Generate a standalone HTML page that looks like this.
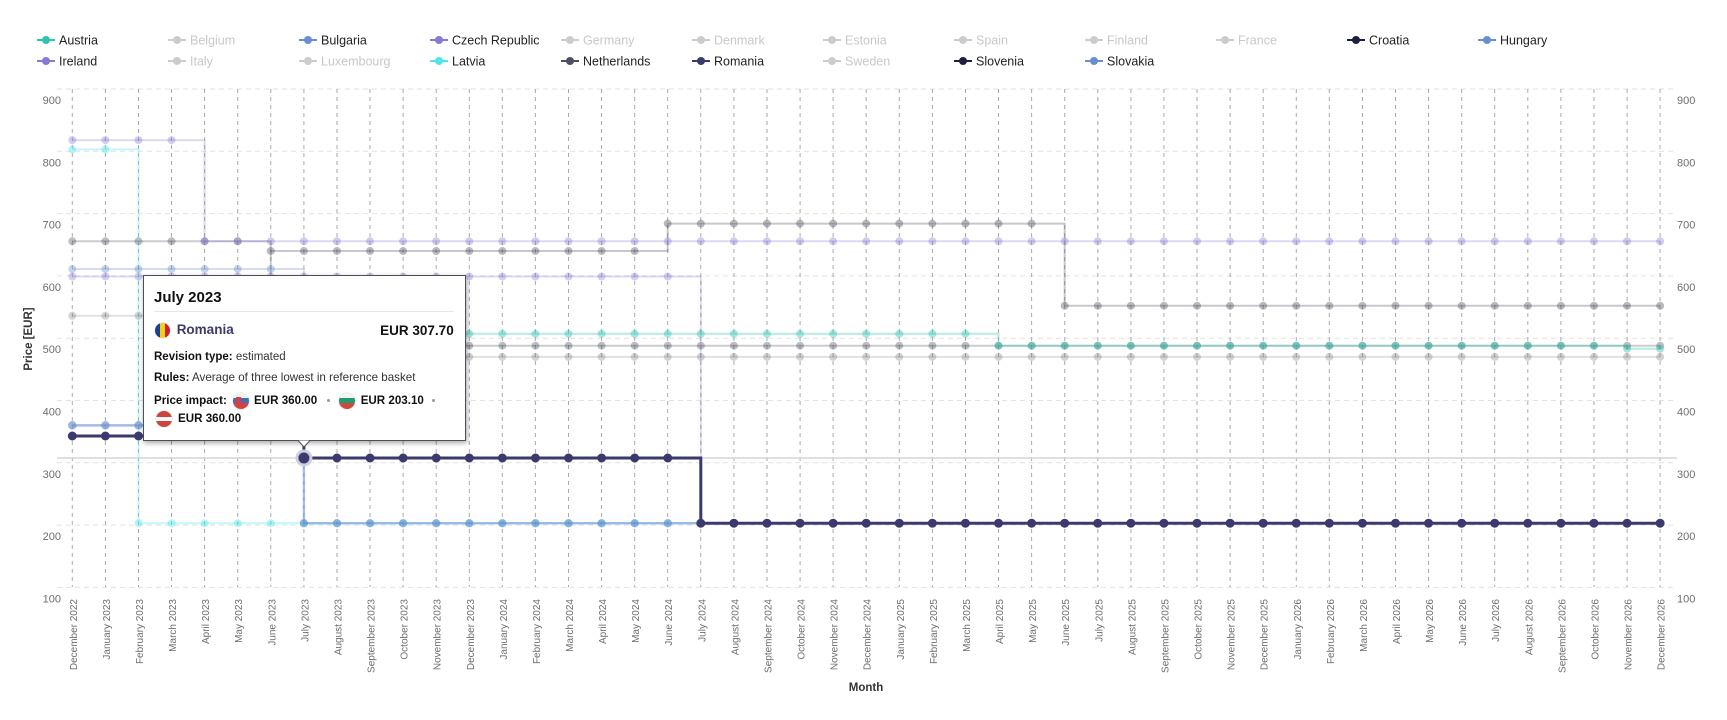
<!DOCTYPE html>
<html><head><meta charset="utf-8"><style>
html,body{margin:0;padding:0;background:#fff;}
body{width:1727px;height:720px;overflow:hidden;position:relative;font-family:"Liberation Sans",sans-serif;}
#tt{position:absolute;left:143px;top:275px;width:321px;height:164px;background:#fff;border:1px solid #4d4d5c;box-shadow:1px 2px 5px rgba(0,0,0,.35);color:#111;}
#tt div,#tt span{position:absolute;white-space:nowrap;}
.b{font-weight:bold;}
.fl{border-radius:50%;overflow:hidden;box-shadow:0 0 0 .5px rgba(0,0,0,.15);}
.sep{width:3px;height:3px;border-radius:50%;background:#9a9a9a;}
</style></head><body>
<svg width="1727" height="720" viewBox="0 0 1727 720" xmlns="http://www.w3.org/2000/svg" style="position:absolute;left:0;top:0">
<!-- legend -->
<g font-family="Liberation Sans, sans-serif" font-size="12.5">
<g transform="translate(46,40)"><path d="M-9 0H9" stroke="#2ec4b0" stroke-width="2"/><circle r="4" fill="#2ec4b0"/><text x="13" y="4.5" fill="#222">Austria</text></g>
<g transform="translate(177,40)"><path d="M-9 0H9" stroke="#cccccc" stroke-width="2"/><circle r="4" fill="#cccccc"/><text x="13" y="4.5" fill="#c8c8c8">Belgium</text></g>
<g transform="translate(308,40)"><path d="M-9 0H9" stroke="#6a8fd0" stroke-width="2"/><circle r="4" fill="#6a8fd0"/><text x="13" y="4.5" fill="#222">Bulgaria</text></g>
<g transform="translate(439,40)"><path d="M-9 0H9" stroke="#8a78d4" stroke-width="2"/><circle r="4" fill="#8a78d4"/><text x="13" y="4.5" fill="#222">Czech Republic</text></g>
<g transform="translate(570,40)"><path d="M-9 0H9" stroke="#cccccc" stroke-width="2"/><circle r="4" fill="#cccccc"/><text x="13" y="4.5" fill="#c8c8c8">Germany</text></g>
<g transform="translate(701,40)"><path d="M-9 0H9" stroke="#cccccc" stroke-width="2"/><circle r="4" fill="#cccccc"/><text x="13" y="4.5" fill="#c8c8c8">Denmark</text></g>
<g transform="translate(832,40)"><path d="M-9 0H9" stroke="#cccccc" stroke-width="2"/><circle r="4" fill="#cccccc"/><text x="13" y="4.5" fill="#c8c8c8">Estonia</text></g>
<g transform="translate(963,40)"><path d="M-9 0H9" stroke="#cccccc" stroke-width="2"/><circle r="4" fill="#cccccc"/><text x="13" y="4.5" fill="#c8c8c8">Spain</text></g>
<g transform="translate(1094,40)"><path d="M-9 0H9" stroke="#cccccc" stroke-width="2"/><circle r="4" fill="#cccccc"/><text x="13" y="4.5" fill="#c8c8c8">Finland</text></g>
<g transform="translate(1225,40)"><path d="M-9 0H9" stroke="#cccccc" stroke-width="2"/><circle r="4" fill="#cccccc"/><text x="13" y="4.5" fill="#c8c8c8">France</text></g>
<g transform="translate(1356,40)"><path d="M-9 0H9" stroke="#1f1f3f" stroke-width="2"/><circle r="4" fill="#1f1f3f"/><text x="13" y="4.5" fill="#222">Croatia</text></g>
<g transform="translate(1487,40)"><path d="M-9 0H9" stroke="#6a8fd0" stroke-width="2"/><circle r="4" fill="#6a8fd0"/><text x="13" y="4.5" fill="#222">Hungary</text></g>
<g transform="translate(46,61)"><path d="M-9 0H9" stroke="#8a78d4" stroke-width="2"/><circle r="4" fill="#8a78d4"/><text x="13" y="4.5" fill="#222">Ireland</text></g>
<g transform="translate(177,61)"><path d="M-9 0H9" stroke="#cccccc" stroke-width="2"/><circle r="4" fill="#cccccc"/><text x="13" y="4.5" fill="#c8c8c8">Italy</text></g>
<g transform="translate(308,61)"><path d="M-9 0H9" stroke="#cccccc" stroke-width="2"/><circle r="4" fill="#cccccc"/><text x="13" y="4.5" fill="#c8c8c8">Luxembourg</text></g>
<g transform="translate(439,61)"><path d="M-9 0H9" stroke="#4ee6e8" stroke-width="2"/><circle r="4" fill="#4ee6e8"/><text x="13" y="4.5" fill="#222">Latvia</text></g>
<g transform="translate(570,61)"><path d="M-9 0H9" stroke="#4a5160" stroke-width="2"/><circle r="4" fill="#4a5160"/><text x="13" y="4.5" fill="#222">Netherlands</text></g>
<g transform="translate(701,61)"><path d="M-9 0H9" stroke="#3b3a6e" stroke-width="2"/><circle r="4" fill="#3b3a6e"/><text x="13" y="4.5" fill="#222">Romania</text></g>
<g transform="translate(832,61)"><path d="M-9 0H9" stroke="#cccccc" stroke-width="2"/><circle r="4" fill="#cccccc"/><text x="13" y="4.5" fill="#c8c8c8">Sweden</text></g>
<g transform="translate(963,61)"><path d="M-9 0H9" stroke="#1f1f3f" stroke-width="2"/><circle r="4" fill="#1f1f3f"/><text x="13" y="4.5" fill="#222">Slovenia</text></g>
<g transform="translate(1094,61)"><path d="M-9 0H9" stroke="#6a8fd0" stroke-width="2"/><circle r="4" fill="#6a8fd0"/><text x="13" y="4.5" fill="#222">Slovakia</text></g>
</g>

<!-- horizontal grid -->
<g stroke="#e2e2e2" stroke-width="1" stroke-dasharray="5 4" fill="none">
<path d="M57 89H1677M57 151.3H1677M57 213.6H1677M57 275.9H1677M57 338.2H1677M57 400.5H1677M57 462.8H1677M57 525.1H1677M57 587.4H1677"/>
</g>
<!-- vertical grid -->
<path fill="none" stroke="#aaaaaa" stroke-width="1" stroke-dasharray="4 4" d="M72.3 89V587M105.4 89V587M138.5 89V587M171.5 89V587M204.6 89V587M237.7 89V587M270.8 89V587M303.9 89V587M337 89V587M370 89V587M403.1 89V587M436.2 89V587M469.3 89V587M502.3 89V587M535.4 89V587M568.5 89V587M601.6 89V587M634.7 89V587M667.7 89V587M700.8 89V587M733.9 89V587M767 89V587M800.1 89V587M833.1 89V587M866.2 89V587M899.3 89V587M932.4 89V587M965.5 89V587M998.5 89V587M1031.6 89V587M1064.7 89V587M1097.8 89V587M1130.9 89V587M1163.9 89V587M1197 89V587M1230.1 89V587M1263.2 89V587M1296.3 89V587M1329.3 89V587M1362.4 89V587M1395.5 89V587M1428.6 89V587M1461.7 89V587M1494.7 89V587M1527.8 89V587M1560.9 89V587M1594 89V587M1627.1 89V587M1660.1 89V587"/>

<!-- y tick labels -->
<g font-family="Liberation Sans, sans-serif" font-size="11" fill="#6e6e6e">
<g text-anchor="end">
<text x="61" y="104">900</text><text x="61" y="166.3">800</text><text x="61" y="228.6">700</text><text x="61" y="290.9">600</text><text x="61" y="353.2">500</text><text x="61" y="415.5">400</text><text x="61" y="477.8">300</text><text x="61" y="540.1">200</text><text x="61" y="602.4">100</text>
</g>
<g text-anchor="start">
<text x="1677" y="104">900</text><text x="1677" y="166.3">800</text><text x="1677" y="228.6">700</text><text x="1677" y="290.9">600</text><text x="1677" y="353.2">500</text><text x="1677" y="415.5">400</text><text x="1677" y="477.8">300</text><text x="1677" y="540.1">200</text><text x="1677" y="602.4">100</text>
</g>
</g>
<text transform="translate(32 339) rotate(-90)" text-anchor="middle" font-family="Liberation Sans, sans-serif" font-size="11.5" font-weight="bold" fill="#333">Price [EUR]</text>
<text x="866" y="691" text-anchor="middle" font-family="Liberation Sans, sans-serif" font-size="11.5" font-weight="bold" fill="#333">Month</text>

<!-- x tick labels -->
<g font-family="Liberation Sans, sans-serif" font-size="10" fill="#6e6e6e" text-anchor="end">
<text transform="translate(76.8 599)rotate(-90)">December 2022</text>
<text transform="translate(109.9 599)rotate(-90)">January 2023</text>
<text transform="translate(143 599)rotate(-90)">February 2023</text>
<text transform="translate(176 599)rotate(-90)">March 2023</text>
<text transform="translate(209.1 599)rotate(-90)">April 2023</text>
<text transform="translate(242.2 599)rotate(-90)">May 2023</text>
<text transform="translate(275.3 599)rotate(-90)">June 2023</text>
<text transform="translate(308.4 599)rotate(-90)">July 2023</text>
<text transform="translate(341.5 599)rotate(-90)">August 2023</text>
<text transform="translate(374.5 599)rotate(-90)">September 2023</text>
<text transform="translate(407.6 599)rotate(-90)">October 2023</text>
<text transform="translate(440.7 599)rotate(-90)">November 2023</text>
<text transform="translate(473.8 599)rotate(-90)">December 2023</text>
<text transform="translate(506.8 599)rotate(-90)">January 2024</text>
<text transform="translate(539.9 599)rotate(-90)">February 2024</text>
<text transform="translate(573 599)rotate(-90)">March 2024</text>
<text transform="translate(606.1 599)rotate(-90)">April 2024</text>
<text transform="translate(639.2 599)rotate(-90)">May 2024</text>
<text transform="translate(672.2 599)rotate(-90)">June 2024</text>
<text transform="translate(705.3 599)rotate(-90)">July 2024</text>
<text transform="translate(738.4 599)rotate(-90)">August 2024</text>
<text transform="translate(771.5 599)rotate(-90)">September 2024</text>
<text transform="translate(804.6 599)rotate(-90)">October 2024</text>
<text transform="translate(837.6 599)rotate(-90)">November 2024</text>
<text transform="translate(870.7 599)rotate(-90)">December 2024</text>
<text transform="translate(903.8 599)rotate(-90)">January 2025</text>
<text transform="translate(936.9 599)rotate(-90)">February 2025</text>
<text transform="translate(970 599)rotate(-90)">March 2025</text>
<text transform="translate(1003 599)rotate(-90)">April 2025</text>
<text transform="translate(1036.1 599)rotate(-90)">May 2025</text>
<text transform="translate(1069.2 599)rotate(-90)">June 2025</text>
<text transform="translate(1102.3 599)rotate(-90)">July 2025</text>
<text transform="translate(1135.4 599)rotate(-90)">August 2025</text>
<text transform="translate(1168.4 599)rotate(-90)">September 2025</text>
<text transform="translate(1201.5 599)rotate(-90)">October 2025</text>
<text transform="translate(1234.6 599)rotate(-90)">November 2025</text>
<text transform="translate(1267.7 599)rotate(-90)">December 2025</text>
<text transform="translate(1300.8 599)rotate(-90)">January 2026</text>
<text transform="translate(1333.8 599)rotate(-90)">February 2026</text>
<text transform="translate(1366.9 599)rotate(-90)">March 2026</text>
<text transform="translate(1400 599)rotate(-90)">April 2026</text>
<text transform="translate(1433.1 599)rotate(-90)">May 2026</text>
<text transform="translate(1466.2 599)rotate(-90)">June 2026</text>
<text transform="translate(1499.2 599)rotate(-90)">July 2026</text>
<text transform="translate(1532.3 599)rotate(-90)">August 2026</text>
<text transform="translate(1565.4 599)rotate(-90)">September 2026</text>
<text transform="translate(1598.5 599)rotate(-90)">October 2026</text>
<text transform="translate(1631.6 599)rotate(-90)">November 2026</text>
<text transform="translate(1664.6 599)rotate(-90)">December 2026</text>
</g>

<!-- series -->
<g fill="none" stroke-linejoin="miter">
<!-- Gray B -->
<path d="M72.3 315.8H204.6V356.9H1660.1" stroke="rgba(120,120,120,0.22)" stroke-width="2"/>
<g stroke="rgba(120,120,120,0.32)" stroke-width="8" stroke-linecap="round" stroke-dasharray="0 33.08">
<path d="M72.3 315.8H171.8"/><path d="M204.6 356.9H1660.4"/></g>
<!-- Gray A -->
<path d="M72.3 241.3H270.8V345.7H1660.1" stroke="rgba(80,85,100,0.3)" stroke-width="2"/>
<g stroke="rgba(80,85,100,0.38)" stroke-width="8" stroke-linecap="round" stroke-dasharray="0 33.08">
<path d="M72.3 241.3H238"/><path d="M270.8 345.7H1660.4"/></g>
<!-- Gray C -->
<path d="M270.8 251H667.7V223.6H1064.7V305.8H1660.1" stroke="rgba(80,85,100,0.32)" stroke-width="2"/>
<g stroke="rgba(80,85,100,0.4)" stroke-width="8" stroke-linecap="round" stroke-dasharray="0 33.08">
<path d="M270.8 251H635"/><path d="M667.7 223.6H1031.9"/><path d="M1064.7 305.8H1660.4"/></g>
<!-- Czech purple -->
<path d="M72.3 140.1H204.6V241.3H1660.1" stroke="rgba(138,120,212,0.28)" stroke-width="2"/>
<g stroke="rgba(138,120,212,0.38)" stroke-width="8" stroke-linecap="round" stroke-dasharray="0 33.08">
<path d="M72.3 140.1H171.8"/><path d="M204.6 241.3H1660.4"/></g>
<!-- Ireland purple -->
<path d="M72.3 276.5H700.8V523.2H1660.1" stroke="rgba(138,120,212,0.28)" stroke-width="2"/>
<g stroke="rgba(138,120,212,0.36)" stroke-width="8" stroke-linecap="round" stroke-dasharray="0 33.08">
<path d="M72.3 276.5H668"/></g>
<!-- Teal Austria -->
<path d="M204.6 333.8H998.5V345.7H1627.1V348.8H1660.1" stroke="rgba(46,196,176,0.35)" stroke-width="2"/>
<g stroke="rgba(46,196,176,0.42)" stroke-width="8" stroke-linecap="round" stroke-dasharray="0 33.08">
<path d="M204.6 333.8H965.8"/><path d="M998.5 345.7H1594.3"/><path d="M1627.1 348.8H1660.4"/></g>
<!-- Cyan Latvia -->
<path d="M72.3 149.4H138.5V523.2H1660.1" stroke="rgba(78,230,232,0.32)" stroke-width="2"/>
<g stroke="rgba(78,230,232,0.42)" stroke-width="8" stroke-linecap="round" stroke-dasharray="0 33.08">
<path d="M72.3 149.4H105.7"/><path d="M138.5 523.2H1660.4"/></g>
<!-- Hungary light blue -->
<path d="M72.3 269H303.9V523.2H1660.1" stroke="rgba(106,143,208,0.3)" stroke-width="2"/>
<g stroke="rgba(106,143,208,0.38)" stroke-width="8" stroke-linecap="round" stroke-dasharray="0 33.08">
<path d="M72.3 269H271.1"/><path d="M303.9 523.2H1660.4"/></g>
<!-- Slovakia -->
<path d="M72.3 425.4H303.9" stroke="rgba(106,143,208,0.62)" stroke-width="2.5"/>
<path d="M303.9 425.4V523.2H1660.1" stroke="rgba(106,143,208,0.4)" stroke-width="2.5"/>
<g stroke="rgba(106,143,208,0.68)" stroke-width="8.5" stroke-linecap="round" stroke-dasharray="0 33.08">
<path d="M72.3 425.4H271.1"/></g>
<g stroke="rgba(106,143,208,0.42)" stroke-width="8.5" stroke-linecap="round" stroke-dasharray="0 33.08">
<path d="M303.9 523.2H1660.4"/></g>
<!-- crosshair -->
<path d="M57 458H1677" stroke="#d6d6d6" stroke-width="1.5"/>
<!-- Romania -->
<path d="M72.3 436H303.9V458H700.8V523.2H1660.1" stroke="#3b3a6e" stroke-width="3"/>
<g stroke="#3b3a6e" stroke-width="9" stroke-linecap="round" stroke-dasharray="0 33.08">
<path d="M72.3 436H271.1"/><path d="M303.9 458H668"/><path d="M700.8 523.2H1660.4"/></g>
<!-- highlight -->
<circle cx="303.9" cy="458" r="8.5" fill="#cfcfe0" stroke="none"/>
<circle cx="303.9" cy="458" r="5.5" fill="#3b3a6e" stroke="none"/>
</g>
</svg>

<div id="tt">
<div class="b" style="left:10px;top:13px;font-size:15px;line-height:18px;">July 2023</div>
<div style="left:10px;top:35px;width:300px;height:1px;background:#e6e6e6;"></div>
<div class="fl" style="left:10.7px;top:46.8px;width:15px;height:15px;">
<span style="left:0;top:0;width:5px;height:15px;background:#1a3f8f;"></span>
<span style="left:5px;top:0;width:5px;height:15px;background:#f5cf1a;"></span>
<span style="left:10px;top:0;width:5px;height:15px;background:#d02030;"></span>
</div>
<div class="b" style="left:32.7px;top:46.3px;font-size:13.5px;line-height:16px;color:#3b3a6e;">Romania</div>
<div class="b" style="right:11.3px;top:46.5px;font-size:13.5px;line-height:16px;">EUR 307.70</div>
<div style="left:10px;top:73.7px;font-size:11.5px;line-height:14px;"><b>Revision type:</b> <span style="position:static;color:#333">estimated</span></div>
<div style="left:10px;top:94.7px;font-size:11.6px;line-height:14px;"><b>Rules:</b> <span style="position:static;color:#333">Average of three lowest in reference basket</span></div>
<div class="b" style="left:10px;top:117.7px;font-size:11.6px;line-height:14px;">Price impact:</div>
<div class="fl" style="left:88.5px;top:116.7px;width:16px;height:16px;">
<span style="left:0;top:0;width:16px;height:5.4px;background:#f4f4f4;"></span>
<span style="left:0;top:5.4px;width:16px;height:5.3px;background:#3f6fb8;"></span>
<span style="left:0;top:10.7px;width:16px;height:5.3px;background:#d84040;"></span>
<span style="left:3px;top:4px;width:5px;height:7px;background:#d84040;border-radius:0 0 3px 3px;"></span>
</div>
<div class="b" style="left:110px;top:117.7px;font-size:11.6px;line-height:14px;">EUR 360.00</div>
<div class="sep" style="left:182.5px;top:123.2px;"></div>
<div class="fl" style="left:195px;top:116.7px;width:16px;height:16px;">
<span style="left:0;top:0;width:16px;height:5.4px;background:#f4f4f4;"></span>
<span style="left:0;top:5.4px;width:16px;height:5.3px;background:#1f9a72;"></span>
<span style="left:0;top:10.7px;width:16px;height:5.3px;background:#cf4a3a;"></span>
</div>
<div class="b" style="left:216.7px;top:117.7px;font-size:11.6px;line-height:14px;">EUR 203.10</div>
<div class="sep" style="left:287.5px;top:123.2px;"></div>
<div class="fl" style="left:11.7px;top:135px;width:16px;height:16px;">
<span style="left:0;top:0;width:16px;height:6px;background:#c9463d;"></span>
<span style="left:0;top:6px;width:16px;height:4px;background:#f7f7f7;"></span>
<span style="left:0;top:10px;width:16px;height:6px;background:#c9463d;"></span>
</div>
<div class="b" style="left:34px;top:136px;font-size:11.6px;line-height:14px;">EUR 360.00</div>
</div>

<svg width="1727" height="720" viewBox="0 0 1727 720" xmlns="http://www.w3.org/2000/svg" style="position:absolute;left:0;top:0;pointer-events:none">
<path d="M298 440.5L304 447L310 440.5Z" fill="#fff" stroke="none"/>
<path d="M298 440.5L304 447L310 440.5" fill="none" stroke="#4d4d5c" stroke-width="1"/>
</svg>
</body></html>
